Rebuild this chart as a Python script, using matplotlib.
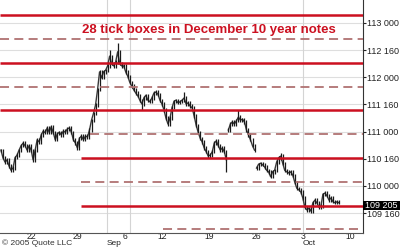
import numpy as np
import matplotlib
matplotlib.use('Agg')
import matplotlib.pyplot as plt
import matplotlib.transforms as mtransforms
from matplotlib.patches import Rectangle
from matplotlib.ticker import FuncFormatter

plt.rcParams['font.family'] = ['Liberation Sans', 'DejaVu Sans']
plt.rcParams['lines.scale_dashes'] = False

# Intraday closes for the December 10 year note (decimal points),
# sampled at even intervals, trading day 0 = Mon Aug 22
closes = [110.66, 110.52, 110.44, 110.48, 110.37, 110.29, 110.33, 110.52, 110.57, 110.66,
          110.74, 110.79, 110.74, 110.66, 110.74, 110.66, 110.48, 110.66, 110.85, 110.81,
          110.94, 111.01, 110.98, 111.07, 110.99, 111.09, 110.98, 110.85, 110.96, 110.99,
          110.94, 111.01, 110.99, 111.05, 111.07, 110.99, 110.85, 110.79, 110.70, 110.88,
          110.92, 110.85, 110.92, 110.90, 111.03, 111.21, 111.34, 111.49, 111.77, 112.10,
          111.99, 112.10, 112.13, 112.21, 112.39, 112.25, 112.21, 112.28, 112.47, 112.25,
          112.21, 112.21, 112.10, 112.02, 111.91, 111.84, 111.77, 111.71, 111.66, 111.58,
          111.51, 111.62, 111.67, 111.58, 111.55, 111.62, 111.71, 111.73, 111.69, 111.58,
          111.51, 111.40, 111.25, 111.14, 111.25, 111.44, 111.56, 111.58, 111.53, 111.55,
          111.58, 111.62, 111.51, 111.53, 111.47, 111.44, 111.29, 111.12, 110.99, 110.88,
          110.81, 110.70, 110.63, 110.55, 110.57, 110.63, 110.79, 110.83, 110.74, 110.66,
          110.70, 110.63, 110.48, 111.03, 111.14, 111.18, 111.14, 111.20, 111.27, 111.21,
          111.23, 111.18, 111.03, 110.94, 110.85, 110.74, 110.66, 110.33, 110.40, 110.42,
          110.39, 110.35, 110.29, 110.26, 110.17, 110.26, 110.29, 110.44, 110.52, 110.55,
          110.42, 110.29, 110.26, 110.24, 110.26, 110.20, 110.07, 109.96, 109.93, 109.89,
          109.78, 109.61, 109.56, 109.59, 109.54, 109.69, 109.74, 109.69, 109.61, 109.63,
          109.85, 109.87, 109.82, 109.74, 109.78, 109.71, 109.69, 109.71, 109.69]
first_bar = -3.2
bar_step = 0.2145
# where the series has a gap (new session)
breaks = [113, 127]
# bars that poke well out of the run: index -> (low, high)
spikes = {54: (112.30, 112.50), 58: (112.28, 112.63), 70: (111.40, 111.55),
          91: (111.55, 111.73), 112: (110.26, 110.55), 118: (111.20, 111.40),
          139: (110.48, 110.61)}

# 28 tick box levels (28/32 apart), base 109 20.5
box_lines = [109.640625, 110.515625, 111.390625, 112.265625, 113.140625]
box_starts = [5.33, 5.33, None, None, None]
mid_lines = [109.203125, 110.078125, 110.953125, 111.828125, 112.703125]
mid_starts = [14.07, 5.33, 6.3, None, None]
last_price = 109.640625

# x axis labels
day_ticks = [0, 5, 10, 14, 19, 24, 29, 34]
day_labels = ['22', '29', '6', '12', '19', '26', '3', '10']
months = ['Sep', 'Oct']
month_days = [8.1, 29.0]
vgrid_days = [8.1, 10.55, 29.0]
price_ticks = [109.5, 110.0, 110.5, 111.0, 111.5, 112.0, 112.5, 113.0]

xmin, xmax = -3.3, 35.39
ymin, ymax = 109.135, 113.423


def fmt32(v, pos=None):
    whole = int(v)
    return '%d %03d' % (whole, round((v - whole) * 320))


fig = plt.figure(figsize=(4, 2.47), dpi=100)
ax = fig.add_axes([0, 1 - 233 / 247, 363 / 400, 233 / 247])
ax.set_xlim(xmin, xmax)
ax.set_ylim(ymin, ymax)

# grid
for p in price_ticks:
    ax.axhline(p, color='#dedede', lw=0.8, zorder=0)
for d in vgrid_days:
    ax.axvline(d, color='#d4d4d4', lw=0.8, zorder=0)

# price bars
t = first_bar + bar_step * np.arange(len(closes))
c = np.array(closes)
edges = [0] + breaks + [len(c)]
for a, b in zip(edges[:-1], edges[1:]):
    ax.plot(t[a:b], c[a:b], color='#3a3a3a', lw=1.0, zorder=2)
    for i in range(a, b):
        prev = c[i - 1] if i > a else c[i]
        lo = min(prev, c[i]) - 0.03
        hi = max(prev, c[i]) + 0.03
        if i in spikes:
            lo = min(lo, spikes[i][0])
            hi = max(hi, spikes[i][1])
        ax.vlines(t[i], lo, hi, color='#1a1a1a', lw=0.9, zorder=2)

# box lines
for lvl, st in zip(box_lines, box_starts):
    x0 = xmin if st is None else st
    ax.plot([x0, xmax], [lvl, lvl], color='#cc1020', lw=1.8, zorder=3,
            solid_capstyle='butt')
for lvl, st in zip(mid_lines, mid_starts):
    x0 = xmin if st is None else st
    ax.plot([x0, xmax], [lvl, lvl], color='#b07272', lw=1.3, zorder=3,
            dashes=(6.5, 3.8))

# axes styling
for s in ['top', 'left']:
    ax.spines[s].set_visible(False)
ax.spines['right'].set_color('#333333')
ax.spines['bottom'].set_color('#555555')
ax.spines['right'].set_linewidth(0.8)
ax.spines['bottom'].set_linewidth(0.8)
ax.yaxis.tick_right()
ax.set_yticks(price_ticks)
ax.yaxis.set_major_formatter(FuncFormatter(fmt32))
ax.tick_params(axis='y', length=2, pad=1, labelsize=6.5, colors='#222222')
ax.set_xticks(day_ticks)
ax.set_xticklabels(day_labels)
ax.tick_params(axis='x', length=0, pad=-0.7, labelsize=6.2, colors='#222222')

trans = mtransforms.blended_transform_factory(ax.transData, ax.transAxes)
for m, d in zip(months, month_days):
    ax.text(d, -0.047, m, transform=trans, fontsize=6.0, color='#222222',
            ha='left', va='center', clip_on=False)

# last price box
ytrans = mtransforms.blended_transform_factory(ax.transAxes, ax.transData)
ax.add_patch(Rectangle((1.0, last_price - 0.09), 0.11, 0.18, transform=ytrans,
                       facecolor='black', edgecolor='none', clip_on=False, zorder=5))
ax.text(1.006, last_price, '109 205', transform=ytrans, fontsize=6.5,
        color='white', ha='left', va='center', clip_on=False, zorder=6)

ax.text(0.576, 0.871, '28 tick boxes in December 10 year notes', transform=ax.transAxes,
        fontsize=9.5, fontweight='bold', color='#cc1020', ha='center', va='center',
        zorder=4)
fig.text(0.005, 1 - 243.5 / 247, '\u00a9 2005 Quote LLC', fontsize=6.0,
         color='#333333', va='center')

fig.savefig('out.png', dpi=100)
